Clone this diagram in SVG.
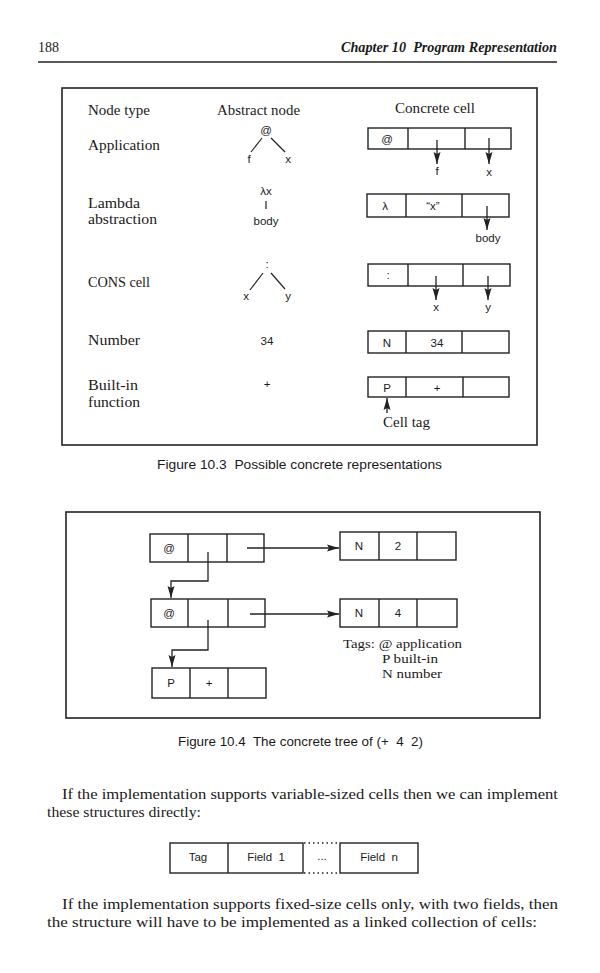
<svg xmlns="http://www.w3.org/2000/svg" width="600" height="973" viewBox="0 0 600 973">
<defs>
<style>
.serif{font-family:"Liberation Serif","Times New Roman",serif;fill:#1a1a1a}
.sans{font-family:"Liberation Sans",Arial,sans-serif;fill:#1a1a1a}
.pre{white-space:pre}
.hd{font-size:14.5px}
.lab{font-size:11.5px;text-anchor:middle}
.cap{font-size:13px}
.body{font-size:15px}
.frame{fill:none;stroke:#222;stroke-width:1.6}
.cell{fill:#fff;stroke:#222;stroke-width:1.4}
.div{stroke:#222;stroke-width:1.4}
.ln{fill:none;stroke:#222;stroke-width:1.2}
.arr{fill:none;stroke:#222;stroke-width:1.3}
</style>
<marker id="ah" markerUnits="userSpaceOnUse" markerWidth="12" markerHeight="8" refX="12" refY="4" orient="auto" viewBox="0 0 12 8">
<path d="M0,0.5 L12,4 L0,7.5 L2,4 z" fill="#222"/>
</marker>
</defs>
<rect width="600" height="973" fill="#fff"/>

<g id="header">
<text class="serif" x="38" y="52" font-size="14">188</text>
<text class="serif pre" x="557" y="52" font-size="14" font-style="italic" font-weight="bold" text-anchor="end" textLength="216" lengthAdjust="spacingAndGlyphs">Chapter 10  Program Representation</text>
<line x1="38" y1="62" x2="557" y2="62" stroke="#222" stroke-width="1.3"/>
</g>

<g id="fig103">
<rect class="frame" x="62" y="88" width="475" height="357"/>
<g id="col-headers">
<text class="serif hd" x="88" y="115" textLength="62" lengthAdjust="spacingAndGlyphs">Node type</text>
<text class="serif hd" x="217" y="115" textLength="83" lengthAdjust="spacingAndGlyphs">Abstract node</text>
<text class="serif hd" x="395" y="113" textLength="80" lengthAdjust="spacingAndGlyphs">Concrete cell</text>
</g>

<g id="row-application">
<text class="serif hd" x="88" y="150" textLength="72" lengthAdjust="spacingAndGlyphs">Application</text>
<text class="sans lab" x="266" y="134">@</text>
<line class="ln" x1="262" y1="138" x2="251" y2="152"/>
<line class="ln" x1="271" y1="138" x2="285" y2="152"/>
<text class="sans lab" x="249" y="163">f</text>
<text class="sans lab" x="288" y="163">x</text>
</g>
<g id="cell-application">
<rect class="cell" x="368" y="128" width="143" height="21"/>
<line class="div" x1="408" y1="128" x2="408" y2="149"/>
<line class="div" x1="465" y1="128" x2="465" y2="149"/>
<text class="sans lab" x="387" y="143">@</text>
</g>

<g id="row-lambda">
<text class="serif hd" x="88" y="208" textLength="52" lengthAdjust="spacingAndGlyphs">Lambda</text>
<text class="serif hd" x="88" y="224" textLength="69" lengthAdjust="spacingAndGlyphs">abstraction</text>
<text class="sans lab" x="266" y="195">λx</text>
<line class="ln" x1="266" y1="201" x2="266" y2="209"/>
<text class="sans lab" x="266" y="225">body</text>
</g>
<g id="cell-lambda">
<rect class="cell" x="367" y="194" width="142" height="23"/>
<line class="div" x1="406" y1="194" x2="406" y2="217"/>
<line class="div" x1="462" y1="194" x2="462" y2="217"/>
<text class="sans lab" x="385" y="210">λ</text>
<text class="sans lab" x="433" y="210">“x”</text>
</g>

<g id="row-cons">
<text class="serif hd" x="88" y="287" textLength="62" lengthAdjust="spacingAndGlyphs">CONS cell</text>
<text class="sans lab" x="267" y="268">:</text>
<line class="ln" x1="263" y1="273" x2="250" y2="290"/>
<line class="ln" x1="271" y1="273" x2="285" y2="289"/>
<text class="sans lab" x="246" y="300">x</text>
<text class="sans lab" x="288" y="300">y</text>
</g>
<g id="cell-cons">
<rect class="cell" x="368" y="264" width="142" height="22"/>
<line class="div" x1="408" y1="264" x2="408" y2="286"/>
<line class="div" x1="463" y1="264" x2="463" y2="286"/>
<text class="sans lab" x="388" y="279">:</text>
</g>

<g id="row-number">
<text class="serif hd" x="88" y="345" textLength="52" lengthAdjust="spacingAndGlyphs">Number</text>
<text class="sans lab" x="267" y="345">34</text>
</g>
<g id="cell-number">
<rect class="cell" x="368" y="331" width="141" height="22"/>
<line class="div" x1="406" y1="331" x2="406" y2="353"/>
<line class="div" x1="462" y1="331" x2="462" y2="353"/>
<text class="sans lab" x="387" y="347">N</text>
<text class="sans lab" x="437" y="347">34</text>
</g>

<g id="row-builtin">
<text class="serif hd" x="88" y="390" textLength="50" lengthAdjust="spacingAndGlyphs">Built-in</text>
<text class="serif hd" x="88" y="407" textLength="52" lengthAdjust="spacingAndGlyphs">function</text>
<text class="sans lab" x="267" y="388">+</text>
</g>
<g id="cell-builtin">
<rect class="cell" x="368" y="377" width="141" height="20"/>
<line class="div" x1="406" y1="377" x2="406" y2="397"/>
<line class="div" x1="463" y1="377" x2="463" y2="397"/>
<text class="sans lab" x="387" y="392">P</text>
<text class="sans lab" x="437" y="392">+</text>
</g>
<g id="cell-tag-label">
<text class="serif hd" x="383" y="427" textLength="47" lengthAdjust="spacingAndGlyphs">Cell tag</text>
</g>

<g id="connectors-103">
<line class="arr" x1="437" y1="140" x2="437" y2="164" marker-end="url(#ah)"/>
<line class="arr" x1="489" y1="138" x2="489" y2="164" marker-end="url(#ah)"/>
<line class="arr" x1="487" y1="206" x2="487" y2="230" marker-end="url(#ah)"/>
<line class="arr" x1="436" y1="276" x2="436" y2="300" marker-end="url(#ah)"/>
<line class="arr" x1="488" y1="276" x2="488" y2="300" marker-end="url(#ah)"/>
<line class="arr" x1="387" y1="413" x2="387" y2="398" marker-end="url(#ah)"/>
</g>
<g id="arrow-labels-103">
<text class="sans lab" x="437" y="175">f</text>
<text class="sans lab" x="489" y="176">x</text>
<text class="sans lab" x="488" y="242">body</text>
<text class="sans lab" x="436" y="311">x</text>
<text class="sans lab" x="488" y="311">y</text>
</g>
</g>
<text class="sans cap pre" x="157" y="469" textLength="285" lengthAdjust="spacingAndGlyphs">Figure 10.3  Possible concrete representations</text>

<g id="fig104">
<rect class="frame" x="66" y="512" width="474" height="206"/>
<g id="node-app1">
<rect class="cell" x="150" y="534" width="114" height="28"/>
<line class="div" x1="188" y1="534" x2="188" y2="562"/>
<line class="div" x1="227" y1="534" x2="227" y2="562"/>
<text class="sans lab" x="169" y="552">@</text>
</g>
<g id="node-n2">
<rect class="cell" x="340" y="532" width="116" height="28"/>
<line class="div" x1="379" y1="532" x2="379" y2="560"/>
<line class="div" x1="417" y1="532" x2="417" y2="560"/>
<text class="sans lab" x="359" y="550">N</text>
<text class="sans lab" x="398" y="550">2</text>
</g>
<g id="node-app2">
<rect class="cell" x="151" y="599" width="114" height="28"/>
<line class="div" x1="188" y1="599" x2="188" y2="627"/>
<line class="div" x1="228" y1="599" x2="228" y2="627"/>
<text class="sans lab" x="169" y="617">@</text>
</g>
<g id="node-n4">
<rect class="cell" x="340" y="599" width="117" height="28"/>
<line class="div" x1="379" y1="599" x2="379" y2="627"/>
<line class="div" x1="417" y1="599" x2="417" y2="627"/>
<text class="sans lab" x="359" y="617">N</text>
<text class="sans lab" x="398" y="617">4</text>
</g>
<g id="node-p">
<rect class="cell" x="152" y="668" width="114" height="30"/>
<line class="div" x1="190" y1="668" x2="190" y2="698"/>
<line class="div" x1="228" y1="668" x2="228" y2="698"/>
<text class="sans lab" x="171" y="687">P</text>
<text class="sans lab" x="209" y="687">+</text>
</g>
<g id="connectors-104">
<line class="arr" x1="247" y1="548" x2="339" y2="548" marker-end="url(#ah)"/>
<line class="arr" x1="250" y1="614" x2="339" y2="614" marker-end="url(#ah)"/>
<path class="arr" d="M208,552 V581 H171 V598" marker-end="url(#ah)"/>
<path class="arr" d="M208,620 V650 H172 V667" marker-end="url(#ah)"/>
</g>
<g id="tags-legend">
<text class="serif" font-size="13.5" x="343" y="648" textLength="119" lengthAdjust="spacingAndGlyphs">Tags: @ application</text>
<text class="serif" font-size="13.5" x="382" y="663" textLength="56" lengthAdjust="spacingAndGlyphs">P built-in</text>
<text class="serif" font-size="13.5" x="382" y="678" textLength="60" lengthAdjust="spacingAndGlyphs">N number</text>
</g>
</g>
<text class="sans cap pre" x="178" y="746" textLength="245" lengthAdjust="spacingAndGlyphs">Figure 10.4  The concrete tree of (+  4  2)</text>

<text class="serif body" x="62" y="799" textLength="496" lengthAdjust="spacingAndGlyphs">If the implementation supports variable-sized cells then we can implement</text>
<text class="serif body" x="47" y="817" textLength="154" lengthAdjust="spacingAndGlyphs">these structures directly:</text>

<g id="var-cell">
<rect class="cell" x="170" y="843" width="133" height="30"/>
<line class="div" x1="228" y1="843" x2="228" y2="873"/>
<line x1="304" y1="843" x2="340" y2="843" stroke="#222" stroke-width="1.4" stroke-dasharray="1.5 3"/>
<line x1="304" y1="873" x2="340" y2="873" stroke="#222" stroke-width="1.4" stroke-dasharray="1.5 3"/>
<rect class="cell" x="340" y="843" width="78" height="30"/>
<text class="sans lab" x="198" y="861">Tag</text>
<text class="sans lab pre" x="266" y="861">Field  1</text>
<text class="sans lab" x="322" y="860">...</text>
<text class="sans lab pre" x="379" y="861">Field  n</text>
</g>

<text class="serif body" x="62" y="909" textLength="496" lengthAdjust="spacingAndGlyphs">If the implementation supports fixed-size cells only, with two fields, then</text>
<text class="serif body" x="47" y="927" textLength="490" lengthAdjust="spacingAndGlyphs">the structure will have to be implemented as a linked collection of cells:</text>
</svg>
